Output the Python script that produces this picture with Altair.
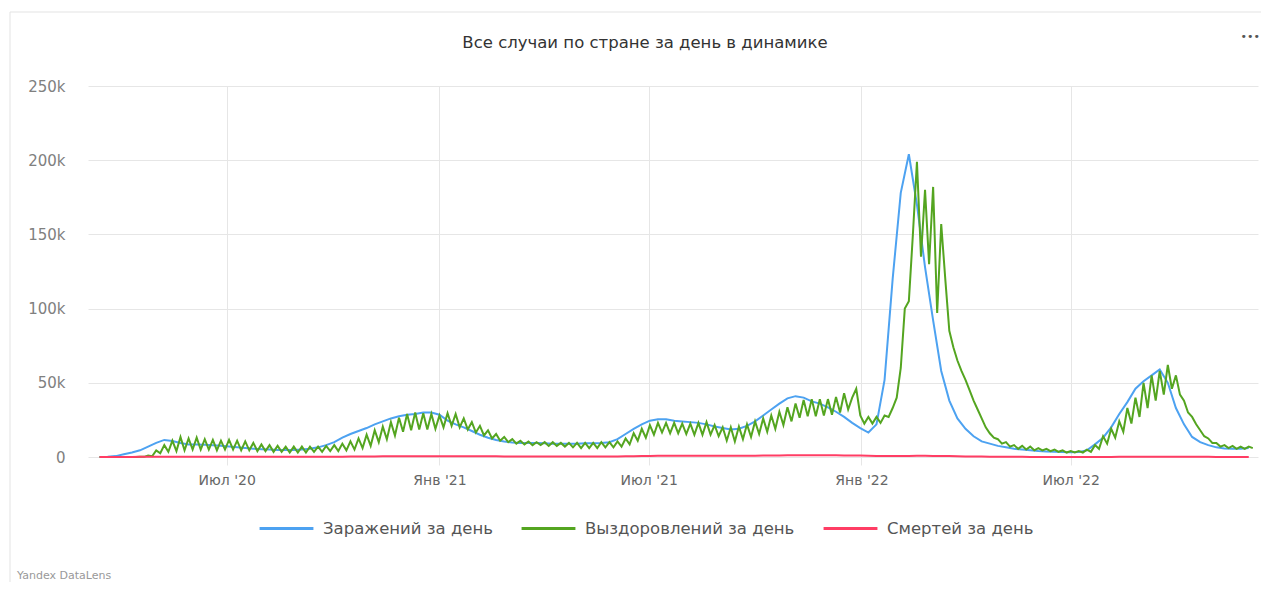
import altair as alt
import pandas as pd

# ---- data (values in thousands, one reading per week starting 2020-03-13) ----
start_date = "2020-03-13"
n_weeks = 143

infections = [
    0.0, 0.1, 0.6, 1.8, 3.0, 4.5, 7.0, 9.5, 11.5, 10.8,
    9.5, 8.5, 8.5, 8.3, 8.0, 7.6, 7.0, 6.5, 6.0, 5.6,
    5.3, 5.0, 4.8, 4.7, 4.8, 5.0, 5.5, 6.5, 8.0, 10.0,
    13.0, 15.5, 17.5, 19.5, 22.0, 24.0, 26.0, 27.5, 28.5, 29.0,
    30.0, 30.0, 28.5, 24.5, 22.0, 20.0, 17.5, 15.0, 13.0, 11.5,
    10.5, 9.8, 9.5, 9.5, 9.5, 9.3, 9.0, 9.0, 9.0, 9.0,
    9.2, 9.3, 9.5, 10.0, 12.0, 15.5, 19.0, 22.0, 24.5, 25.5,
    25.5, 24.5, 24.0, 23.5, 23.0, 22.0, 20.5, 19.5, 18.5, 19.0,
    21.0, 24.0, 28.0, 32.0, 36.0, 39.5, 41.0, 40.0, 37.5, 36.0,
    33.5, 30.5, 27.0, 23.0, 19.5, 16.5, 22.0, 52.0, 120.0, 178.0,
    204.0, 170.0, 128.0, 92.0, 58.0, 38.0, 26.0, 19.0, 14.0, 10.5,
    9.0, 7.5, 6.5, 5.5, 5.0, 4.5, 4.0, 3.7, 3.5, 3.3,
    3.2, 3.3, 4.5, 8.5, 13.0, 20.0, 29.0, 37.0, 46.0, 51.0,
    55.0, 59.0, 50.0, 33.0, 22.0, 13.5, 10.0, 8.0, 6.5, 5.8,
    5.5, 5.5, 6.0,
]

# recoveries: reading at the start of each week and at mid-week (weekly zig-zag)
recoveries_week = [
    0, 0, 0, 0, 0, 0.2, 1.0, 4.5, 8.0, 11.0,
    13.5, 12.5, 13.0, 12.0, 11.5, 11.0, 11.5, 11.0, 10.5, 9.5,
    8.5, 8.0, 7.5, 7.0, 7.0, 7.0, 7.0, 7.0, 7.5, 8.0,
    9.0, 10.5, 12.5, 15.0, 18.0, 20.5, 23.5, 26.5, 29.0, 30.0,
    29.5, 29.0, 28.0, 29.5, 29.0, 26.0, 23.5, 21.0, 18.0, 15.5,
    13.5, 12.0, 11.0, 10.5, 10.0, 10.0, 10.0, 9.5, 9.5, 9.5,
    9.5, 9.5, 10.0, 10.0, 10.5, 12.5, 16.0, 19.0, 21.5, 23.0,
    23.0, 23.0, 22.5, 22.5, 23.0, 23.5, 21.5, 20.0, 20.0, 20.5,
    22.0, 24.0, 26.0, 28.0, 30.5, 33.5, 36.0, 38.5, 39.0, 39.0,
    39.0, 40.5, 43.0, 40.0, 28.0, 27.0, 27.0, 28.0, 33.0, 60.0,
    105.0, 199.0, 180.0, 182.0, 157.0, 85.0, 65.0, 52.0, 38.0, 26.0,
    16.0, 12.0, 10.0, 8.0, 7.5, 7.0, 6.0, 5.5, 5.0, 4.5,
    4.0, 4.0, 5.0, 8.0, 14.0, 19.0, 24.0, 33.0, 40.0, 50.0,
    55.0, 58.0, 62.0, 55.0, 38.0, 27.0, 18.0, 12.5, 9.5, 8.0,
    7.5, 7.0, 7.0,
]
recoveries_midweek = [
    0, 0, 0, 0, 0, 0.1, 0.5, 2.5, 3.5, 4.0,
    4.5, 5.0, 5.0, 5.0, 4.5, 5.0, 5.0, 4.5, 4.5, 4.0,
    4.0, 3.5, 3.5, 3.0, 3.0, 3.0, 3.5, 3.5, 4.0, 4.0,
    4.5, 5.0, 6.0, 7.5, 10.0, 12.0, 14.5, 17.0, 18.0, 18.5,
    18.5, 19.0, 20.0, 21.0, 20.0, 18.5, 16.5, 14.5, 12.5, 11.0,
    10.0, 9.0, 8.5, 8.0, 8.0, 7.5, 7.5, 7.0, 6.5, 6.0,
    6.0, 6.0, 6.5, 6.5, 7.0, 8.5, 11.0, 13.0, 15.0, 16.5,
    16.0, 16.0, 15.5, 15.0, 15.0, 15.0, 14.0, 11.0, 10.5, 12.0,
    13.5, 15.5, 17.0, 19.0, 21.5, 24.0, 26.5, 27.5, 27.5, 28.0,
    28.5, 30.0, 32.0, 46.0, 22.5, 22.5, 23.0, 27.0, 40.0, 100.0,
    150.0, 135.0, 130.0, 97.0, 120.0, 74.0, 58.0, 45.0, 32.0, 20.0,
    13.0, 9.0, 7.0, 5.5, 5.0, 4.5, 4.5, 4.0, 3.5, 3.0,
    3.0, 3.0, 3.5, 5.5, 9.0, 13.0, 17.0, 22.5, 27.0, 33.0,
    38.0, 42.0, 46.0, 42.0, 30.0, 22.0, 14.0, 9.5, 7.0, 6.0,
    5.5, 5.5, 6.0,
]

deaths = [
    0.0, 0.0, 0.01, 0.02, 0.05, 0.1, 0.15, 0.1, 0.1, 0.13,
    0.15, 0.16, 0.17, 0.17, 0.16, 0.15, 0.14, 0.13, 0.12, 0.12,
    0.11, 0.11, 0.11, 0.11, 0.11, 0.11, 0.12, 0.13, 0.15, 0.18,
    0.22, 0.26, 0.3, 0.34, 0.38, 0.44, 0.48, 0.52, 0.55, 0.57,
    0.57, 0.58, 0.58, 0.56, 0.55, 0.53, 0.51, 0.49, 0.47, 0.44,
    0.42, 0.41, 0.4, 0.38, 0.38, 0.37, 0.36, 0.36, 0.36, 0.36,
    0.36, 0.37, 0.38, 0.38, 0.4, 0.45, 0.55, 0.65, 0.72, 0.78,
    0.79, 0.79, 0.79, 0.79, 0.79, 0.79, 0.78, 0.78, 0.79, 0.8,
    0.85, 0.9, 0.95, 1.0, 1.07, 1.15, 1.2, 1.22, 1.23, 1.21,
    1.18, 1.15, 1.07, 1.0, 0.95, 0.85, 0.75, 0.7, 0.67, 0.67,
    0.72, 0.77, 0.78, 0.75, 0.68, 0.6, 0.5, 0.42, 0.35, 0.3,
    0.25, 0.2, 0.15, 0.12, 0.1, 0.08, 0.07, 0.06, 0.05, 0.05,
    0.04, 0.04, 0.04, 0.05, 0.06, 0.07, 0.09, 0.11, 0.13, 0.15,
    0.16, 0.17, 0.16, 0.15, 0.13, 0.12, 0.1, 0.09, 0.08, 0.08,
    0.07, 0.06, 0.06,
]

series_names = ["Заражений за день", "Выздоровлений за день", "Смертей за день"]
series_colors = ["#4DA2F1", "#54A520", "#FF3D64"]
tick_dates = ["2020-07-01", "2021-01-01", "2021-07-01", "2022-01-01", "2022-07-01"]
y_ticks = [0, 50000, 100000, 150000, 200000, 250000]
title_text = "Все случаи по стране за день в динамике"

# ---- build long table ----
weeks = pd.date_range(start_date, periods=n_weeks, freq="7D")
mid = weeks + pd.Timedelta(hours=84)

rows = []
for d, v in zip(weeks, infections):
    rows.append({"date": d, "value": v * 1000, "series": series_names[0]})
for d1, v1, d2, v2 in zip(weeks, recoveries_week, mid, recoveries_midweek):
    rows.append({"date": d1, "value": v1 * 1000, "series": series_names[1]})
    rows.append({"date": d2, "value": v2 * 1000, "series": series_names[1]})
for d, v in zip(weeks, deaths):
    rows.append({"date": d, "value": v * 1000, "series": series_names[2]})
df = pd.DataFrame(rows)

FONT = "DejaVu Sans"

def dt(s):
    t = pd.Timestamp(s)
    return alt.DateTime(year=t.year, month=t.month, date=t.day)

x_enc = alt.X(
    "date:T",
    scale=alt.Scale(domain=[dt("2020-03-03"), dt("2022-12-10")]),
    axis=alt.Axis(
        title=None,
        values=[dt(s) for s in tick_dates],
        labelExpr="(month(datum.value) == 0 ? 'Янв' : 'Июл') + \" '\" + timeFormat(datum.value, '%y')",
        grid=True,
        gridColor="#e6e6e6",
        tickColor="#e6e6e6",
        tickSize=8,
        domain=False,
        labelFont=FONT,
        labelFontSize=14,
        labelColor="#666666",
        labelPadding=8,
    ),
)
y_enc = alt.Y(
    "value:Q",
    scale=alt.Scale(domain=[0, 250000], nice=False),
    axis=alt.Axis(
        title=None,
        values=y_ticks,
        labelExpr="datum.value == 0 ? '0' : (datum.value / 1000) + 'k'",
        grid=True,
        gridColor="#e6e6e6",
        ticks=False,
        domain=False,
        labelFont=FONT,
        labelFontSize=15,
        labelColor="#808080",
        labelPadding=23,
    ),
)
color_enc = alt.Color(
    "series:N",
    scale=alt.Scale(domain=series_names, range=series_colors),
    legend=alt.Legend(
        title=None,
        orient="none",
        legendX=170,
        legendY=414,
        direction="horizontal",
        symbolType="stroke",
        symbolSize=2900,
        symbolStrokeWidth=3,
        labelFont=FONT,
        labelFontSize=16.5,
        labelColor="#555555",
        labelOffset=8,
        labelLimit=500,
        columnPadding=22,
        padding=0,
    ),
)

base = alt.Chart(df).encode(x=x_enc, y=y_enc, color=color_enc)
layers = [
    base.transform_filter(alt.datum.series == name).mark_line(strokeWidth=2)
    for name in series_names
]

title = alt.Chart(pd.DataFrame({"t": [title_text]})).mark_text(
    align="center", baseline="middle", font=FONT, fontSize=16.5, color="#333333"
).encode(x=alt.value(557), y=alt.value(-43), text="t:N")
footer = alt.Chart(pd.DataFrame({"t": ["Yandex DataLens"]})).mark_text(
    align="left", baseline="middle", font=FONT, fontSize=11, color="#999999"
).encode(x=alt.value(-71), y=alt.value(490), text="t:N")
dots = alt.Chart(pd.DataFrame({"t": ["•••"]})).mark_text(
    align="right", baseline="middle", font=FONT, fontSize=11, color="#555555"
).encode(x=alt.value(1172), y=alt.value(-49), text="t:N")
frame = alt.Chart(pd.DataFrame({"t": [0]})).mark_rect(
    fillOpacity=0, stroke="#e3e3e3", strokeWidth=1
).encode(x=alt.value(-78), x2=alt.value(1300), y=alt.value(-74), y2=alt.value(700))

chart = alt.layer(frame, *layers, title, footer, dots).properties(
    width=1170,
    height=371,
    autosize=alt.AutoSizeParams(type="none"),
    padding={"left": 80, "top": 78, "right": 3, "bottom": 125},
).configure_view(stroke=None)

chart.save("out.html", embed_options={"renderer": "svg", "actions": False})
